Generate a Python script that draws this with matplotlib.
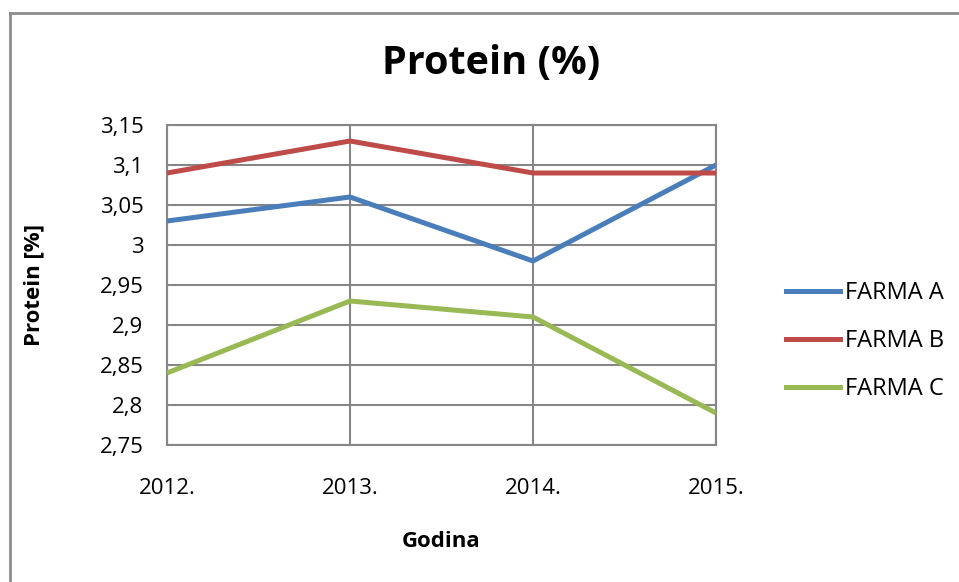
import matplotlib
matplotlib.use("Agg")
import matplotlib.pyplot as plt
from matplotlib.lines import Line2D

years = ["2012.", "2013.", "2014.", "2015."]
farma_a = [3.03, 3.06, 2.98, 3.10]
farma_b = [3.09, 3.13, 3.09, 3.09]
farma_c = [2.84, 2.93, 2.91, 2.79]
series_names = ["FARMA A", "FARMA B", "FARMA C"]
yticks = [2.75, 2.8, 2.85, 2.9, 2.95, 3.0, 3.05, 3.1, 3.15]
ytick_labels = ["2,75", "2,8", "2,85", "2,9", "2,95", "3", "3,05", "3,1", "3,15"]

colors = ["#4A7EBB", "#BE4B48", "#98B954"]
plt.rcParams['font.family'] = ['Open Sans', 'DejaVu Sans']

W, H = 959, 582
fig = plt.figure(figsize=(W/100, H/100), dpi=100)
# outer chart border (only left and top visible)
fig.add_artist(Line2D([10/W, 10/W], [0, 1 - 12.5/H], transform=fig.transFigure,
                      color="#8c8c8c", linewidth=2))
fig.add_artist(Line2D([10/W, 1], [1 - 12.5/H, 1 - 12.5/H], transform=fig.transFigure,
                      color="#8c8c8c", linewidth=2))

ax = fig.add_axes([167/W, 1 - 445/H, (716-167)/W, (445-125)/H])
x = list(range(len(years)))
for vals, c, n in zip([farma_a, farma_b, farma_c], colors, series_names):
    ax.plot(x, vals, color=c, linewidth=3.6, label=n, solid_capstyle='butt', zorder=3)

ax.set_xlim(0, len(years) - 1)
ax.set_ylim(2.75, 3.15)
ax.set_yticks(yticks)
ax.set_yticklabels(ytick_labels, fontsize=16)
ax.set_xticks(x)
ax.set_xticklabels(years, fontsize=16)
ax.tick_params(axis='y', length=0, pad=17)
ax.tick_params(axis='x', length=0, pad=24)
ax.grid(True, color="#868686", linewidth=1.5, zorder=1)
for s in ax.spines.values():
    s.set_color("#868686")
    s.set_linewidth(1.5)

ax.set_xlabel("Godina", fontsize=16, fontweight='bold')
ax.xaxis.set_label_coords(0.5, (445 - 531) / 320)
ax.set_ylabel("Protein [%]", fontsize=16, fontweight='bold')
ax.yaxis.set_label_coords((44 - 167) / 549, 0.5)
fig.text(491/W, 1 - 63/H, "Protein (%)", fontsize=28.5, fontweight='bold', ha='center', va='center')

handles = [Line2D([0], [0], color=c, linewidth=3.6) for c in colors]
fig.legend(handles, series_names, loc='center left', bbox_to_anchor=(786/W, 1 - 341/H),
           frameon=False, fontsize=17, handlelength=2.3, handletextpad=0.2, labelspacing=1.02,
           borderpad=0, borderaxespad=0)

fig.savefig("out.png", dpi=100)
